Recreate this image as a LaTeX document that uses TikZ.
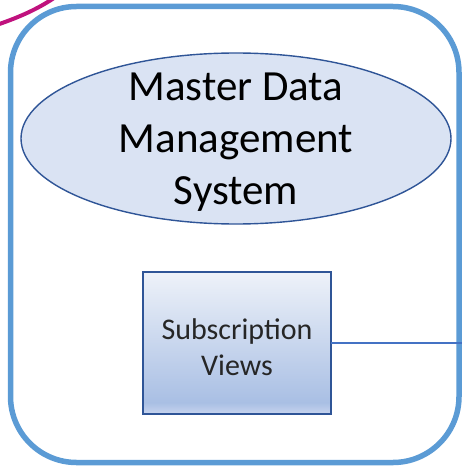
\documentclass[tikz,border=0pt]{standalone}
\usepackage{fontspec}
\setmainfont{Carlito}
\usetikzlibrary{shapes.geometric}

\definecolor{frameblue}{HTML}{5B9BD5}
\definecolor{darkblue}{HTML}{2F5597}
\definecolor{linkblue}{HTML}{4472C4}
\definecolor{ellfill}{HTML}{DAE3F3}
\definecolor{arcpink}{RGB}{192,18,126}
\definecolor{gradtop}{HTML}{EEF2F9}
\definecolor{gradlow}{HTML}{A9BFE4}
\definecolor{gradedge}{HTML}{C8D5EF}

% top-light, bottom-dark fill with a lighter rim at the very bottom
\pgfdeclareverticalshading{viewgrad}{100bp}{%
  color(0bp)=(gradedge); color(25bp)=(gradedge); color(29bp)=(gradlow);
  color(75bp)=(gradtop); color(100bp)=(gradtop)}

\tikzset{
  outerframe/.style={draw=frameblue, line width=5.5pt, rounded corners=66pt,
    inner sep=0pt, outer sep=0pt},
  systemoval/.style={ellipse, draw=darkblue, fill=ellfill, line width=1.4pt,
    inner sep=0pt, outer sep=0pt},
  viewbox/.style={draw=darkblue, line width=1.8pt, shading=viewgrad,
    inner sep=0pt, outer sep=0pt},
  bigtext/.style={font=\fontsize{43}{52}\selectfont, align=center, inner sep=0pt},
  smalltext/.style={font=\fontsize{30}{36}\selectfont, align=center, inner sep=0pt,
    text=black!85},
  link/.style={draw=linkblue, line width=1.4pt},
}

\begin{document}
\begin{tikzpicture}[x=1pt, y=-1pt]
  \useasboundingbox (0,0) rectangle (461,468);

  % magenta arc at the top-left corner
  \draw[arcpink, line width=4pt] (-2,24.5) .. controls (18,17.5) and (36,10) .. (54,-2);

  % outer rounded frame
  \node[outerframe, minimum width=448.5pt, minimum height=456pt] (frame) at (234.75,234.5) {};

  % master data system oval
  \node[systemoval, minimum width=430pt, minimum height=171pt] (mdm) at (236,138.5) {};
  \node[bigtext] (mdmtext) at (236,142.5) {Master Data\\Management\\System};

  % subscription views box
  \node[viewbox, minimum width=188pt, minimum height=142pt] (views) at (237,343) {};
  \node[smalltext] (viewstext) at (237,347) {Subscription\\Views};

  % outgoing connector
  \coordinate (out) at (463,343);
  \draw[link] (views.east) -- (out);
\end{tikzpicture}
\end{document}
